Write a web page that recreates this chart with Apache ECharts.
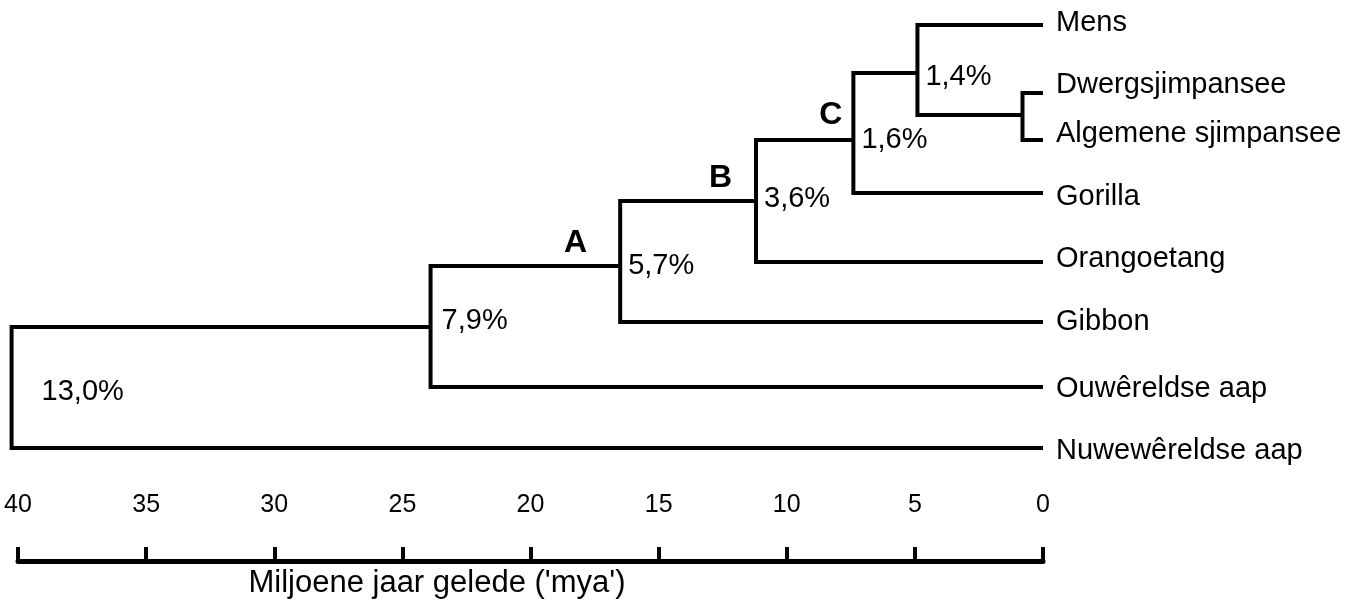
<!DOCTYPE html>
<html>
<head>
    <meta charset="UTF-8">
    <title>Stamboom van primate</title>
    <script src="https://cdn.jsdelivr.net/npm/echarts@6/dist/echarts.min.js"></script>
    <style>
        html, body { margin: 0; padding: 0; background: #fff; }
    </style>
</head>
<body>

<!-- container for the tree -->
<div id="main" style="width: 1364px;height:604px"></div>

<script type="text/javascript">
    // leaves (top to bottom) and their row position
    var leafNames = ['Mens', 'Dwergsjimpansee', 'Algemene sjimpansee', 'Gorilla',
        'Orangoetang', 'Gibbon', 'Ouwêreldse aap', 'Nuwewêreldse aap'];
    var leafRows = [25, 93, 140, 193, 262, 322, 387, 448];

    // internal nodes: age in mya, row, children (L = leaf, N = node)
    var nodeAges = [0.8, 4.9, 7.4, 11.2, 16.5, 23.9, 40.25];
    var nodeRows = [115, 73, 140, 201, 266, 327, 387];
    var nodeChildren = [['L1', 'L2'], ['L0', 'N0'], ['N1', 'L3'], ['N2', 'L4'],
        ['N3', 'L5'], ['N4', 'L6'], ['N5', 'L7']];
    var nodePct = ['', '1,4%', '1,6%', '3,6%', '5,7%', '7,9%', '13,0%'];
    var nodeLetters = ['', '', 'C', 'B', 'A', '', ''];

    // axis ticks
    var axisMin = 0, axisMax = 40, axisStep = 5;
    var axisTitle = "Miljoene jaar gelede ('mya')";

    var FONT = '"Liberation Sans", Arial, sans-serif';
    var BLACK = '#000000';

    function pos(id) {
        var i = parseInt(id.substring(1), 10);
        if (id.charAt(0) === 'L') return [0, leafRows[i]];
        return [nodeAges[i], nodeRows[i]];
    }

    // one elbow polyline per internal node
    var branches = [];
    for (var i = 0; i < nodeAges.length; i++) {
        var a = pos(nodeChildren[i][0]);
        var b = pos(nodeChildren[i][1]);
        branches.push({
            coords: [a, [nodeAges[i], a[1]], [nodeAges[i], b[1]], b]
        });
    }

    // label offsets (style, not data)
    var pctOffset = {1: [0, 4], 2: [0, 0], 3: [0, -2], 4: [0, 0], 5: [3, -6], 6: [22, 5]};
    var letterOffset = {2: [-11, -25], 3: [-24, -23], 4: [-33, -23]};
    var leafOffset = {0: [0, -2], 1: [0, -8], 2: [0, -6], 3: [0, 4], 4: [0, -3], 6: [0, 2], 7: [0, 3]};

    var pctData = [], letterData = [], leafData = [];
    for (var i = 0; i < nodeAges.length; i++) {
        if (nodePct[i]) {
            pctData.push({
                value: [nodeAges[i], nodeRows[i]], name: nodePct[i],
                label: {offset: pctOffset[i] || [0, 0]}
            });
        }
        if (nodeLetters[i]) {
            letterData.push({
                value: [nodeAges[i], nodeRows[i]], name: nodeLetters[i],
                label: {offset: letterOffset[i] || [0, 0]}
            });
        }
    }
    for (var j = 0; j < leafNames.length; j++) {
        leafData.push({
            value: [0, leafRows[j]], name: leafNames[j],
            label: {offset: leafOffset[j] || [0, 0]}
        });
    }

    // scatter without symbols, only used to place text (scatter is 0.8 opacity by default)
    function textSeries(data, lbl) {
        lbl.show = true;
        lbl.formatter = '{b}';
        lbl.fontFamily = FONT;
        lbl.color = BLACK;
        lbl.opacity = 1;
        return {
            type: 'scatter',
            symbolSize: 0,
            clip: false,
            silent: true,
            itemStyle: {color: BLACK, opacity: 1},
            label: lbl,
            data: data
        };
    }

    var myChart = echarts.init(document.getElementById('main'));
    var option = {
        animation: false,
        grid: {left: 18, right: 321, top: 0, bottom: 43},
        xAxis: {
            type: 'value',
            min: axisMin,
            max: axisMax,
            interval: axisStep,
            inverse: true,
            name: axisTitle,
            nameLocation: 'middle',
            nameGap: 7,
            nameTextStyle: {
                fontFamily: FONT, fontSize: 31, color: BLACK,
                padding: [0, 187, 0, 0], verticalAlign: 'top'
            },
            axisLine: {onZero: false, lineStyle: {color: BLACK, width: 5}},
            axisTick: {inside: true, length: 14, lineStyle: {color: BLACK, width: 4}},
            axisLabel: {inside: true, margin: 43, fontFamily: FONT, fontSize: 25, color: BLACK},
            splitLine: {show: false}
        },
        yAxis: {
            type: 'value',
            min: 0,
            max: 561,
            inverse: true,
            show: false
        },
        series: [
            {
                type: 'lines',
                coordinateSystem: 'cartesian2d',
                polyline: true,
                clip: false,
                silent: true,
                lineStyle: {color: BLACK, width: 4, opacity: 1, join: 'miter', cap: 'butt'},
                data: branches
            },
            textSeries(pctData, {position: 'right', distance: 8, fontSize: 29}),
            textSeries(letterData, {position: 'left', distance: 0, fontSize: 32, fontWeight: 'bold'}),
            textSeries(leafData, {position: 'right', distance: 13, fontSize: 29})
        ]
    };
    myChart.setOption(option);
</script>
</body>
</html>
